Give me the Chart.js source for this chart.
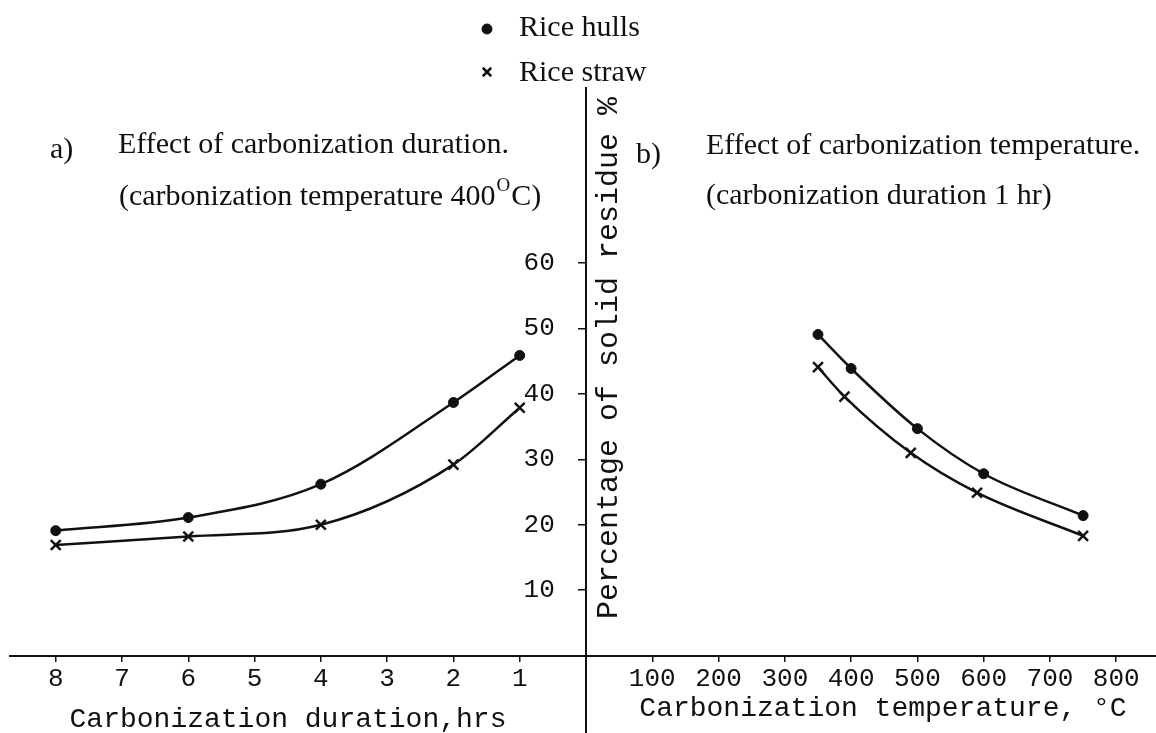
<!DOCTYPE html>
<html>
<head>
<meta charset="utf-8">
<title>Carbonization of rice hulls and rice straw</title>
<script src="https://cdn.jsdelivr.net/npm/chart.js@4.4.0/dist/chart.umd.min.js"></script>
<style>
  html, body { margin: 0; padding: 0; background: #fff; overflow: hidden; }
  #wrap { width: 1156px; height: 733px; }
</style>
</head>
<body>
<div id="wrap"><canvas id="chart" width="1156" height="733"></canvas></div>
<script>
// a) carbonization duration (hrs), temperature 400 C
const durationHrs = [8, 6, 4, 2, 1];
const hullsByDuration = [19.1, 21.1, 26.2, 38.7, 45.9];
const strawByDuration = [16.9, 18.2, 20.0, 29.2, 37.9];

// b) carbonization temperature (C), duration 1 hr
const hullTemps = [350, 400, 500, 600, 750];
const hullsByTemp = [49.1, 43.9, 34.7, 27.8, 21.4];
const strawTemps = [350, 390, 490, 590, 750];
const strawByTemp = [44.1, 39.6, 31.0, 24.9, 18.3];

const yTicks = [10, 20, 30, 40, 50, 60];
const hourTicks = [8, 7, 6, 5, 4, 3, 2, 1];
const tempTicks = [100, 200, 300, 400, 500, 600, 700, 800];

const MONO = "'Liberation Mono', 'DejaVu Sans Mono', monospace";
const SERIF = "'Liberation Serif', 'DejaVu Serif', serif";
const INK = '#111';

// left panel runs to the left of the shared y axis, right panel to the right
const toLeft = (hrs, vals) => hrs.map((h, i) => ({ x: -h, y: vals[i] }));
const toRight = (temps, vals) => temps.map((t, i) => ({ x: t / 100, y: vals[i] }));

const lineStyle = {
    showLine: true,
    borderColor: INK,
    backgroundColor: INK,
    borderWidth: 2.5,
    cubicInterpolationMode: 'monotone',
    pointBorderColor: INK,
    pointBackgroundColor: INK
};
const hullPoints = { pointStyle: 'circle', pointRadius: 5, pointBorderWidth: 1 };
const strawPoints = { pointStyle: 'crossRot', pointRadius: 7, pointBorderWidth: 2.5 };

const figureText = {
    id: 'figureText',
    afterDraw(chart) {
        const ctx = chart.ctx;
        ctx.save();
        ctx.fillStyle = INK;
        ctx.strokeStyle = INK;
        ctx.textBaseline = 'middle';
        ctx.textAlign = 'left';

        // legend
        Chart.helpers.drawPoint(ctx, { pointStyle: 'circle', radius: 5, borderWidth: 1 }, 487, 29);
        ctx.lineWidth = 2.5;
        Chart.helpers.drawPoint(ctx, { pointStyle: 'crossRot', radius: 6, borderWidth: 2.5 }, 487, 72);
        ctx.font = `30px ${SERIF}`;
        ctx.fillText('Rice hulls', 519, 28);
        ctx.fillText('Rice straw', 519, 73);

        // panel notes
        ctx.fillText('a)', 50, 150);
        ctx.fillText('Effect of carbonization duration.', 118, 145);
        const t1 = '(carbonization temperature 400';
        ctx.fillText(t1, 119, 197);
        const w = ctx.measureText(t1).width;
        ctx.font = `19px ${SERIF}`;
        ctx.fillText('O', 119 + w + 1, 186);
        const wo = ctx.measureText('O').width;
        ctx.font = `30px ${SERIF}`;
        ctx.fillText('C)', 119 + w + wo + 2, 197);

        ctx.fillText('b)', 636, 155);
        ctx.fillText('Effect of carbonization temperature.', 706, 146);
        ctx.fillText('(carbonization duration 1 hr)', 706, 196);

        // axis titles
        ctx.font = `28px ${MONO}`;
        ctx.textAlign = 'center';
        ctx.fillText('Carbonization duration,hrs', 288, 720);
        ctx.fillText('Carbonization temperature, \u00B0C', 883, 709);

        ctx.translate(609, 358);
        ctx.rotate(-Math.PI / 2);
        ctx.font = `30px ${MONO}`;
        ctx.fillText('Percentage of solid residue %', 0, 0);
        ctx.restore();
    }
};

new Chart(document.getElementById('chart'), {
    type: 'scatter',
    data: {
        datasets: [
            { label: 'Rice hulls', data: toLeft(durationHrs, hullsByDuration), ...lineStyle, ...hullPoints },
            { label: 'Rice straw', data: toLeft(durationHrs, strawByDuration), ...lineStyle, ...strawPoints },
            { label: 'Rice hulls', data: toRight(hullTemps, hullsByTemp), ...lineStyle, ...hullPoints },
            { label: 'Rice straw', data: toRight(strawTemps, strawByTemp), ...lineStyle, ...strawPoints }
        ]
    },
    options: {
        responsive: false,
        animation: false,
        layout: { autoPadding: false, padding: { left: 10, top: 88, right: 0, bottom: 0 } },
        plugins: {
            legend: { display: false },
            tooltip: { enabled: false }
        },
        scales: {
            x: {
                type: 'linear',
                min: -8.69,
                max: 8.6,
                position: { y: 0 },
                afterBuildTicks: (scale) => {
                    scale.ticks = [...hourTicks.map(h => ({ value: -h })), ...tempTicks.map(t => ({ value: t / 100 }))];
                },
                afterFit: (scale) => { scale.paddingLeft = 0; scale.paddingRight = 0; },
                ticks: {
                    callback: (v) => v < 0 ? String(-v) : String(Math.round(v * 100)),
                    font: { family: MONO, size: 26 },
                    color: INK,
                    padding: 3,
                    maxRotation: 0,
                    autoSkip: false
                },
                grid: { drawOnChartArea: false, tickLength: 5, color: INK, lineWidth: 1.5 },
                border: { color: INK, width: 2 }
            },
            y: {
                type: 'linear',
                min: -11.85,
                max: 86.8,
                position: { x: 0 },
                afterBuildTicks: (scale) => {
                    scale.ticks = yTicks.map(v => ({ value: v }));
                },
                afterFit: (scale) => { scale.paddingTop = 0; scale.paddingBottom = 0; },
                ticks: {
                    // labels sit right-aligned on the axis; trailing spaces keep them clear of it
                    callback: (v) => v + '  ',
                    font: { family: MONO, size: 26 },
                    color: INK
                },
                grid: { drawOnChartArea: false, tickLength: 7, color: INK, lineWidth: 1.5 },
                border: { color: INK, width: 2 }
            }
        }
    },
    plugins: [figureText]
});
</script>
</body>
</html>
